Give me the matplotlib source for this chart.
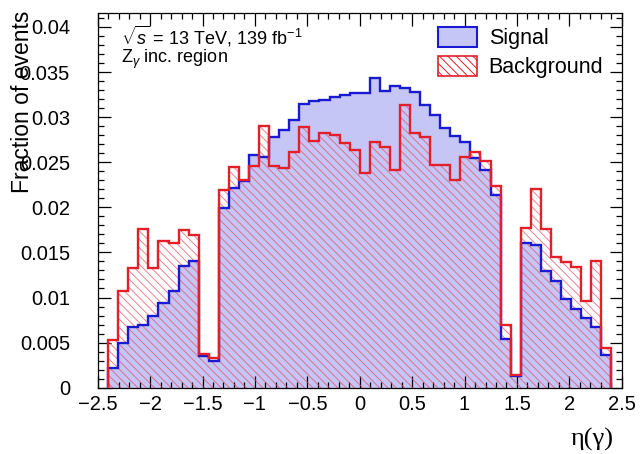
import numpy as np
import matplotlib
matplotlib.use("Agg")
import matplotlib.pyplot as plt
from matplotlib.patches import Patch
from matplotlib.ticker import MultipleLocator, FuncFormatter

plt.rcParams['font.family'] = ['Liberation Sans', 'DejaVu Sans']
plt.rcParams['mathtext.fontset'] = 'custom'
plt.rcParams['mathtext.rm'] = 'Liberation Sans'
plt.rcParams['mathtext.it'] = 'Liberation Sans:italic'
plt.rcParams['hatch.linewidth'] = 0.7

# 50 bins of eta(gamma) between -2.4 and 2.4
edges = np.linspace(-2.4, 2.4, 51)

signal = [0.00214, 0.00500, 0.00672, 0.00690, 0.00800, 0.00940, 0.01068, 0.01344,
          0.01406, 0.00352, 0.00294, 0.01993, 0.02214, 0.02287, 0.02581, 0.02563,
          0.02783, 0.02857, 0.02967, 0.03150, 0.03176, 0.03194, 0.03224, 0.03242,
          0.03268, 0.03271, 0.03436, 0.03286, 0.03341, 0.03323, 0.03279, 0.03139,
          0.03029, 0.02874, 0.02794, 0.02728, 0.02544, 0.02416, 0.02141, 0.00544,
          0.00130, 0.01608, 0.01583, 0.01296, 0.01186, 0.00985, 0.00874, 0.00775,
          0.00672, 0.00360]

background = [0.00533, 0.01068, 0.01322, 0.01755, 0.01322, 0.01623, 0.01605, 0.01744,
              0.01696, 0.00379, 0.00324, 0.02196, 0.02449, 0.02306, 0.02453, 0.02904,
              0.02460, 0.02434, 0.02610, 0.02893, 0.02739, 0.02819, 0.02801, 0.02709,
              0.02636, 0.02379, 0.02728, 0.02673, 0.02416, 0.03139, 0.02827, 0.02783,
              0.02471, 0.02471, 0.02306, 0.02563, 0.02618, 0.02515, 0.02232, 0.00690,
              0.00140, 0.01773, 0.02203, 0.01762, 0.01450, 0.01395, 0.01340, 0.00966,
              0.01403, 0.00445]

sig_fill = '#c6c6f6'
sig_line = '#1a1ad0'
bkg_line = '#e2202a'
bkg_hatch = (0.88, 0.3, 0.38, 0.7)

fig = plt.figure(figsize=(6.41, 4.54), dpi=100)
ax = fig.add_axes([0.1524, 0.146, 0.8176, 0.8245])

ax.stairs(signal, edges, fill=True, color=sig_fill, lw=0, zorder=1)
ax.stairs(background, edges, fill=True, facecolor='none', edgecolor=bkg_hatch,
          hatch='\\\\\\\\', lw=0, zorder=2)
ax.stairs(signal, edges, color=sig_line, lw=1.7, zorder=3)
ax.stairs(background, edges, color=bkg_line, lw=1.7, zorder=4)

ax.set_xlim(-2.5, 2.5)
ax.set_ylim(0, 0.0415)
ax.xaxis.set_major_locator(MultipleLocator(0.5))
ax.xaxis.set_minor_locator(MultipleLocator(0.1))
ax.yaxis.set_major_locator(MultipleLocator(0.005))
ax.yaxis.set_minor_locator(MultipleLocator(0.001))
ax.yaxis.set_major_formatter(FuncFormatter(lambda v, p: '%g' % round(v, 4)))
ax.xaxis.set_major_formatter(FuncFormatter(lambda v, p: ('%g' % v).replace('-', '\u2212')))
ax.tick_params(which='both', direction='in', top=True, right=True, labelsize=14.5, width=0.9)
ax.tick_params(which='major', length=9)
ax.tick_params(which='minor', length=4.5)
ax.tick_params(axis='x', pad=5)
ax.tick_params(axis='y', pad=20)
for s in ax.spines.values():
    s.set_linewidth(0.9)

ax.set_ylabel('Fraction of events', fontsize=16.5, loc='top')
ax.yaxis.set_label_coords(-0.122, 1.008)
fig.text(0.958, 0.018, '\u03b7(\u03b3)', fontsize=19, ha='right', va='baseline',
         family=['Liberation Serif', 'DejaVu Serif'])

ax.text(0.045, 0.972, r'$\sqrt{s}$ = 13 TeV, 139 fb$^{-1}$', transform=ax.transAxes,
        fontsize=13, va='top')
ax.text(0.045, 0.908, r'Z$_{\gamma}$ inc. region', transform=ax.transAxes,
        fontsize=13, va='top')

handles = [Patch(facecolor=sig_fill, edgecolor=sig_line, lw=1.5),
           Patch(facecolor='white', edgecolor=bkg_line, hatch='\\\\\\\\', lw=1.2)]
ax.legend(handles, ['Signal', 'Background'], loc='upper left',
          bbox_to_anchor=(0.633, 0.987), frameon=False, fontsize=15.5,
          handlelength=1.8, handleheight=1.05, handletextpad=0.55,
          labelspacing=0.32, borderaxespad=0)

fig.savefig('out.png', dpi=100)
